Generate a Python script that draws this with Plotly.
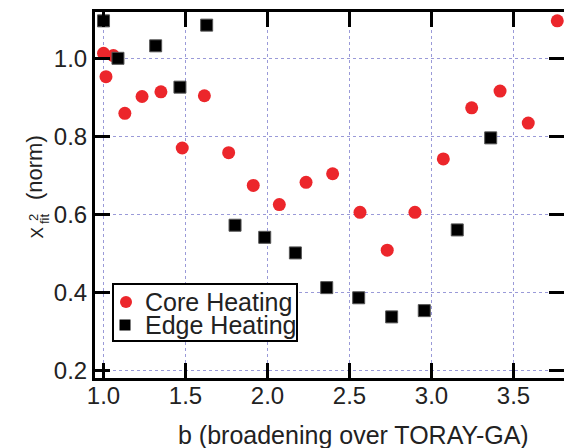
import plotly.graph_objects as go

core_b = [1.00, 1.06, 1.015, 1.13, 1.235, 1.35, 1.48, 1.615, 1.763, 1.913, 2.072,
          2.235, 2.397, 2.564, 2.73, 2.899, 3.072, 3.245, 3.418, 3.59, 3.767]
core_chi = [1.013, 1.007, 0.953, 0.859, 0.902, 0.914, 0.770, 0.904, 0.758, 0.674, 0.625,
            0.682, 0.704, 0.605, 0.508, 0.605, 0.742, 0.873, 0.916, 0.834, 1.096]

edge_b = [1.00, 1.088, 1.318, 1.466, 1.629, 1.802, 1.983, 2.17, 2.361, 2.556, 2.757,
          2.956, 3.157, 3.361]
edge_chi = [1.096, 1.000, 1.032, 0.926, 1.085, 0.572, 0.541, 0.501, 0.412, 0.386, 0.337,
            0.353, 0.560, 0.796]

x_ticks = [1.0, 1.5, 2.0, 2.5, 3.0, 3.5]
y_ticks = [0.2, 0.4, 0.6, 0.8, 1.0]

FONT = "Liberation Sans, Arial, sans-serif"
TXT = "#222222"
GRID = "#9a9ad8"
RED = "#ec262b"

L, R, T, B = 95, 0, 12, 70
W, H = 564, 448
PW, PH = W - L - R, H - T - B
Y_RANGE = [0.1803, 1.1187]


def px(x):
    return (x - L) / PW


def py(y):
    return (H - B - y) / PH


fig = go.Figure()
fig.add_trace(go.Scatter(x=core_b, y=core_chi, mode="markers", name="Core Heating",
                         marker=dict(symbol="circle", size=13, color=RED)))
fig.add_trace(go.Scatter(x=edge_b, y=edge_chi, mode="markers", name="Edge Heating",
                         yaxis="y2",
                         marker=dict(symbol="square", size=12, color="#000000",
                                     line=dict(color="#555555", width=1))))

axis_common = dict(showline=True, linecolor="black", linewidth=3,
                   ticks="inside", ticklen=15, tickwidth=3, tickcolor="black",
                   showgrid=True, gridcolor=GRID, gridwidth=1, griddash="3px,3px",
                   zeroline=False, tickfont=dict(family=FONT, size=24, color=TXT),
                   tickformat=".1f")

fig.update_layout(
    width=W, height=H, autosize=False,
    margin=dict(l=L, r=R, t=T, b=B, pad=0),
    paper_bgcolor="white", plot_bgcolor="white",
    xaxis=dict(range=[0.948, 3.808], tickvals=x_ticks, ticklabelstandoff=-6,
               mirror="ticks", **axis_common),
    yaxis=dict(range=Y_RANGE, tickvals=y_ticks, mirror=False, **axis_common),
    yaxis2=dict(overlaying="y", side="right", anchor="x", range=Y_RANGE,
                showline=False, ticks="inside", ticklen=15, tickwidth=3,
                tickcolor="black", tickvals=y_ticks, showticklabels=False,
                showgrid=False, zeroline=False),
    showlegend=False,
)

# legend box (drawn by hand so that the rows sit as close as in the reference)
fig.add_shape(type="rect", xref="paper", yref="paper",
              x0=px(113), x1=px(297), y0=py(341), y1=py(284),
              line=dict(color="black", width=2), fillcolor="white", layer="above")
fig.add_shape(type="circle", xref="paper", yref="paper", xsizemode="pixel",
              ysizemode="pixel", xanchor=px(126), yanchor=py(302),
              x0=-6, x1=6, y0=-6, y1=6, line=dict(width=0), fillcolor=RED,
              layer="above")
fig.add_shape(type="rect", xref="paper", yref="paper", xsizemode="pixel",
              ysizemode="pixel", xanchor=px(125), yanchor=py(325),
              x0=-5.5, x1=5.5, y0=-5.5, y1=5.5, line=dict(width=0),
              fillcolor="black", layer="above")

ann = [
    dict(text="Core Heating", x=px(144), y=py(302), size=25, angle=0, xa="left"),
    dict(text="Edge Heating", x=px(144), y=py(325), size=25, angle=0, xa="left"),
    dict(text="b (broadening over TORAY-GA)", x=px(353.5), y=py(435), size=25, angle=0,
         xa="center"),
    dict(text="(norm)", x=px(34), y=py(168), size=22, angle=-90, xa="center"),
    dict(text="X", x=px(36.5), y=py(233), size=17, angle=-90, xa="center"),
    dict(text="2", x=px(33.5), y=py(217.5), size=13, angle=-90, xa="center"),
    dict(text="fit", x=px(44), y=py(219), size=13, angle=-90, xa="center"),
]
for a in ann:
    fig.add_annotation(text=a["text"], x=a["x"], y=a["y"], xref="paper", yref="paper",
                       xanchor=a["xa"], yanchor="middle", showarrow=False,
                       textangle=a["angle"], borderpad=0,
                       font=dict(family=FONT, size=a["size"], color=TXT))

fig.write_html("out.html", config={"displayModeBar": False},
               post_script="document.body.style.margin='0';"
                           "document.body.style.overflow='hidden';")
